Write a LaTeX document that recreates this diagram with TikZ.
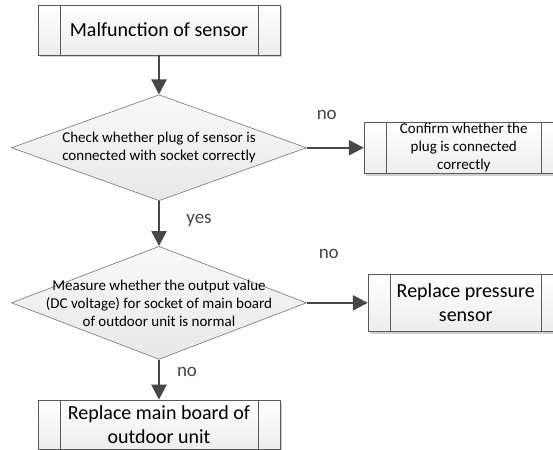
\documentclass[tikz,border=0pt]{standalone}
\usepackage{fontspec}
\setmainfont{Carlito}
\usepackage{tikz}
\usetikzlibrary{shapes.geometric,arrows.meta,positioning,shadows}

\begin{document}
\begin{tikzpicture}[
  block/.style={rectangle, draw=black!65, line width=0.9pt,
                minimum width=#1, minimum height=50pt,
                top color=white, bottom color=gray!14,
                align=center, inner sep=0pt,
                font=\fontsize{20}{24}\selectfont,
                drop shadow={shadow xshift=2pt, shadow yshift=-2.5pt,
                             fill=black!30, opacity=0.6},
                path picture={
                  \draw[black!65, line width=0.9pt]
                    ([xshift=22pt]path picture bounding box.north west) --
                    ([xshift=22pt]path picture bounding box.south west);
                  \draw[black!65, line width=0.9pt]
                    ([xshift=-22pt]path picture bounding box.north east) --
                    ([xshift=-22pt]path picture bounding box.south east);
                }},
  block/.default={242pt},
  decision/.style={diamond, draw=black!55, line width=0.6pt,
                   minimum width=295pt, minimum height=#1, inner sep=0pt,
                   top color=gray!5, bottom color=gray!18},
  decision/.default={106pt},
  dtext/.style={align=center, font=\fontsize{15}{18}\selectfont, inner sep=0pt},
  arrow/.style={-{Triangle[length=15pt, width=15pt]}, line width=2.4pt, color=black!72},
  note/.style={font=\fontsize{19}{23}\selectfont, inner sep=0pt},
  node distance=40pt
]
  \useasboundingbox[fill=white] (0,0) rectangle (553pt,449pt);

  \node[block] (fault) at (159pt,419pt) {Malfunction of sensor};
  \node[decision, below=39pt of fault,
        label={[dtext]center:Check whether plug of sensor is\\connected with socket correctly}] (plug) {};
  \node[block=199pt, minimum height=51pt, right=57pt of plug,
        font=\fontsize{15}{18}\selectfont] (confirm) {Confirm whether the\\plug is connected\\correctly};

  \node[decision=113pt, below=45pt of plug,
        label={[dtext]center:Measure whether the output value\\(DC voltage) for socket of main board\\of outdoor unit is normal}] (volt) {};
  \node[block=195pt, minimum height=57pt, right=61pt of volt] (sensor) {Replace pressure\\sensor};

  \node[block, minimum height=49pt, below=40pt of volt] (board) {Replace main board of\\outdoor unit};

  % Arrows
  \draw[arrow] (fault) -- (plug);
  \draw[arrow] (plug.east) -- node[note, pos=0.35, yshift=33pt]{no} (confirm);
  \draw[arrow] (plug.south) -- node[note, pos=0.42, xshift=40pt]{yes} (volt.north);
  \draw[arrow] (volt.east) -- node[note, pos=0.36, yshift=49pt]{no} (sensor);
  \draw[arrow] (volt.south) -- node[note, pos=0.3, xshift=28pt]{no} (board);
\end{tikzpicture}
\end{document}
